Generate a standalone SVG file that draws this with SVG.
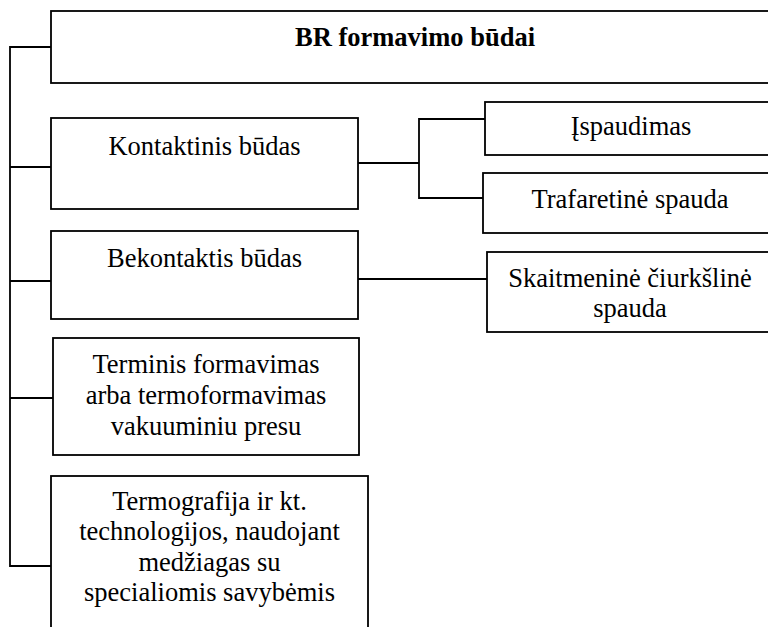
<svg xmlns="http://www.w3.org/2000/svg" width="768" height="627" viewBox="0 0 768 627">
<style>
.box{fill:#fff;stroke:#000;stroke-width:1.8}
.ln{fill:none;stroke:#000;stroke-width:1.8}
text{font-family:"Liberation Serif","Times New Roman",serif;font-size:26.5px;fill:#000;text-anchor:middle}
.b{font-weight:bold}
</style>
<rect width="768" height="627" fill="#fff"/>
<g id="connectors">
<polyline class="ln" points="51,47 10,47 10,566 51,566"/>
<line class="ln" x1="10" y1="167" x2="51" y2="167"/>
<line class="ln" x1="10" y1="281" x2="51" y2="281"/>
<line class="ln" x1="10" y1="398" x2="53" y2="398"/>
<line class="ln" x1="358" y1="163" x2="419" y2="163"/>
<polyline class="ln" points="485,119 419,119 419,198 483,198"/>
<line class="ln" x1="358" y1="279" x2="487" y2="279"/>
</g>
<g id="root">
<rect class="box" x="51" y="11" width="729" height="72"/>
<text class="b" x="415" y="46">BR formavimo būdai</text>
</g>
<g id="kontaktinis">
<rect class="box" x="51" y="118" width="307" height="91"/>
<text x="204.5" y="155">Kontaktinis būdas</text>
</g>
<g id="bekontaktis">
<rect class="box" x="51" y="231" width="307" height="88"/>
<text x="204.5" y="267">Bekontaktis būdas</text>
</g>
<g id="terminis">
<rect class="box" x="53" y="338" width="306" height="117"/>
<text x="206" y="373">Terminis formavimas</text>
<text x="206" y="404">arba termoformavimas</text>
<text x="206" y="435">vakuuminiu presu</text>
</g>
<g id="termografija">
<rect class="box" x="51" y="476" width="317" height="170"/>
<text x="209.5" y="510">Termografija ir kt.</text>
<text x="209.5" y="540">technologijos, naudojant</text>
<text x="209.5" y="571">medžiagas su</text>
<text x="209.5" y="601">specialiomis savybėmis</text>
</g>
<g id="ispaudimas">
<rect class="box" x="485" y="102" width="292" height="53"/>
<text x="631" y="135">Įspaudimas</text>
</g>
<g id="trafaretine">
<rect class="box" x="483" y="173" width="294" height="60"/>
<text x="630" y="208">Trafaretinė spauda</text>
</g>
<g id="skaitmenine">
<rect class="box" x="487" y="252" width="290" height="80"/>
<text x="630" y="287">Skaitmeninė čiurkšlinė</text>
<text x="630" y="317">spauda</text>
</g>
</svg>
